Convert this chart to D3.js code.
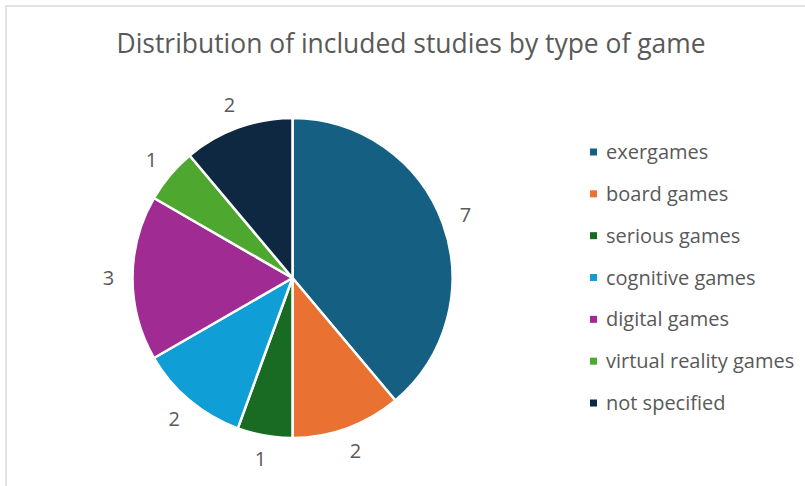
<!DOCTYPE html>
<html>
<head>
<meta charset="utf-8">
<script src="https://cdn.jsdelivr.net/npm/d3@7"></script>
<style>
  html, body { margin: 0; padding: 0; background: #fff; }
  svg { display: block; }
  text { font-family: "Open Sans", "Liberation Sans", sans-serif; fill: #595959; }
</style>
</head>
<body>
<svg id="chart" width="805" height="486"></svg>
<script>
const chartTitle = "Distribution of included studies by type of game";
const categories = ["exergames", "board games", "serious games", "cognitive games", "digital games", "virtual reality games", "not specified"];
const values = [7, 2, 1, 2, 3, 1, 2];
const colors = ["#156082", "#E97132", "#196B24", "#0F9ED5", "#A02B93", "#4EA72E", "#0E2841"];

const svg = d3.select("#chart");
const W = 805, H = 486;

// frame
svg.append("rect").attr("x", 6).attr("y", 6).attr("width", W + 20).attr("height", H + 20)
  .attr("fill", "#fff").attr("stroke", "#d9d9d9").attr("stroke-width", 1.5);

// title
svg.append("text")
  .attr("x", 411).attr("y", 53)
  .attr("text-anchor", "middle")
  .attr("font-size", 27)
  .attr("textLength", 589).attr("lengthAdjust", "spacingAndGlyphs")
  .text(chartTitle);

const data = categories.map((c, i) => ({ name: c, value: values[i], color: colors[i] }));
const cx = 292.5, cy = 278, r = 160, labelR = 184;

const pie = d3.pie().value(d => d.value).sort(null);
const arcs = pie(data);
const arc = d3.arc().innerRadius(0).outerRadius(r);
const labelArc = d3.arc().innerRadius(labelR).outerRadius(labelR);

const g = svg.append("g").attr("transform", `translate(${cx},${cy})`);
g.selectAll("path.slice").data(arcs).join("path")
  .attr("class", "slice")
  .attr("d", arc)
  .attr("fill", d => d.data.color)
  .attr("stroke", "#fff").attr("stroke-width", 2.5).attr("stroke-linejoin", "round");

g.selectAll("text.lbl").data(arcs).join("text")
  .attr("class", "lbl")
  .attr("transform", d => `translate(${labelArc.centroid(d)})`)
  .attr("text-anchor", "middle")
  .attr("dy", "0.36em")
  .attr("font-size", 20)
  .text(d => d.data.value);

// legend
const legY = d3.scalePoint().domain(categories).range([152, 403]);
const lg = svg.append("g");
const items = lg.selectAll("g.item").data(data).join("g")
  .attr("class", "item")
  .attr("transform", d => `translate(590,${legY(d.name)})`);
items.append("rect").attr("x", 0).attr("y", -3.5).attr("width", 7).attr("height", 7)
  .attr("fill", d => d.color);
items.append("text").attr("x", 16).attr("dy", "0.35em")
  .attr("font-size", 20)
  .text(d => d.name);
</script>
</body>
</html>
